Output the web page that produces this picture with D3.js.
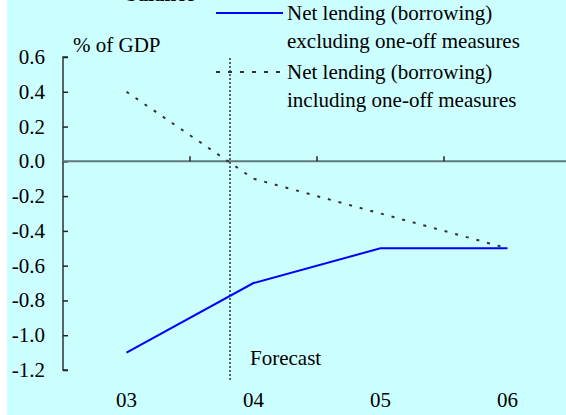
<!DOCTYPE html>
<html>
<head>
<meta charset="utf-8">
<script src="https://cdn.jsdelivr.net/npm/d3@7"></script>
<style>
  body { margin: 0; background: #fff; }
  svg text { font-family: "Liberation Serif", "DejaVu Serif", serif; }
</style>
</head>
<body>
<svg id="chart" width="566" height="415"></svg>
<script>
const years = ["03", "04", "05", "06"];
const excluding = [-1.1, -0.7, -0.5, -0.5];
const including = [0.4, -0.1, -0.3, -0.5];
const yTicks = [0.6, 0.4, 0.2, 0.0, -0.2, -0.4, -0.6, -0.8, -1.0, -1.2];

const svg = d3.select("#chart");
const margin = { left: 63, top: 57, bottom: 370 };
const fs = 21;

svg.append("rect")
  .attr("x", 7).attr("y", 0)
  .attr("width", 559).attr("height", 415)
  .attr("fill", "#ccffff");

const x = d3.scaleBand()
  .domain(years)
  .range([margin.left, margin.left + 4 * 127]);

const y = d3.scaleLinear()
  .domain([-1.2, 0.6])
  .range([margin.bottom, margin.top]);

// y axis, ticks pointing inward
const yAxis = svg.append("g")
  .attr("transform", `translate(${margin.left},0)`)
  .call(d3.axisRight(y).tickValues(yTicks).tickSize(5).tickFormat(""));
yAxis.select(".domain").attr("stroke", "#333").attr("stroke-width", 1.5)
  .attr("d", `M5,${y(0.6)}H0V${y(-1.2)}H5`);
yAxis.selectAll(".tick line").attr("stroke", "#222").attr("stroke-width", 1.5);

svg.append("g").selectAll("text")
  .data(yTicks)
  .join("text")
  .attr("x", 45)
  .attr("y", d => y(d) + 7)
  .attr("text-anchor", "end")
  .attr("font-size", fs)
  .text(d => d3.format(".1f")(d).replace("−", "-"));

// zero line with category ticks
svg.append("line")
  .attr("x1", margin.left).attr("x2", 566)
  .attr("y1", y(0)).attr("y2", y(0))
  .attr("stroke", "#5f7a7a").attr("stroke-width", 2);
svg.append("g").selectAll("line")
  .data(years.slice(1))
  .join("line")
  .attr("x1", d => x(d)).attr("x2", d => x(d))
  .attr("y1", y(0)).attr("y2", y(0) - 5)
  .attr("stroke", "#222").attr("stroke-width", 1.5);

svg.append("g").selectAll("text")
  .data(years)
  .join("text")
  .attr("x", d => x(d) + x.bandwidth() / 2)
  .attr("y", 407)
  .attr("text-anchor", "middle")
  .attr("font-size", fs)
  .text(d => d);

// forecast divider
svg.append("line")
  .attr("x1", 230).attr("x2", 230)
  .attr("y1", 58).attr("y2", 381)
  .attr("stroke", "#333").attr("stroke-width", 1.5)
  .attr("stroke-dasharray", "2,2");
svg.append("text")
  .attr("x", 250).attr("y", 365)
  .attr("font-size", fs)
  .text("Forecast");

const line = d3.line()
  .x((d, i) => x(years[i]) + x.bandwidth() / 2)
  .y(d => y(d));

svg.append("path")
  .datum(including)
  .attr("d", line)
  .attr("fill", "none")
  .attr("stroke", "#333")
  .attr("stroke-width", 2)
  .attr("stroke-dasharray", "3,8");

svg.append("path")
  .datum(excluding)
  .attr("d", line)
  .attr("fill", "none")
  .attr("stroke", "#0000ff")
  .attr("stroke-width", 2);

// labels (title sits mostly above the visible area, as in the source)
svg.append("text").attr("x", 126).attr("y", 1).attr("font-size", fs)
  .attr("font-weight", "bold").text("balance");
svg.append("text").attr("x", 73).attr("y", 52).attr("font-size", fs).text("% of GDP");

// legend
const legend = [
  { color: "#0000ff", dash: null, y: 13, lines: ["Net lending (borrowing)", "excluding one-off measures"] },
  { color: "#333", dash: "4,8", y: 72, lines: ["Net lending (borrowing)", "including one-off measures"] }
];
const lg = svg.append("g").selectAll("g").data(legend).join("g");
lg.append("line")
  .attr("x1", 216).attr("x2", 283)
  .attr("y1", d => d.y).attr("y2", d => d.y)
  .attr("stroke", d => d.color).attr("stroke-width", 2)
  .attr("stroke-dasharray", d => d.dash);
lg.append("text")
  .attr("x", 287)
  .attr("y", d => d.y + 7)
  .attr("font-size", fs)
  .selectAll("tspan")
  .data(d => d.lines)
  .join("tspan")
  .attr("x", 287)
  .attr("dy", (d, i) => i ? 28 : 0)
  .text(d => d);
</script>
</body>
</html>
